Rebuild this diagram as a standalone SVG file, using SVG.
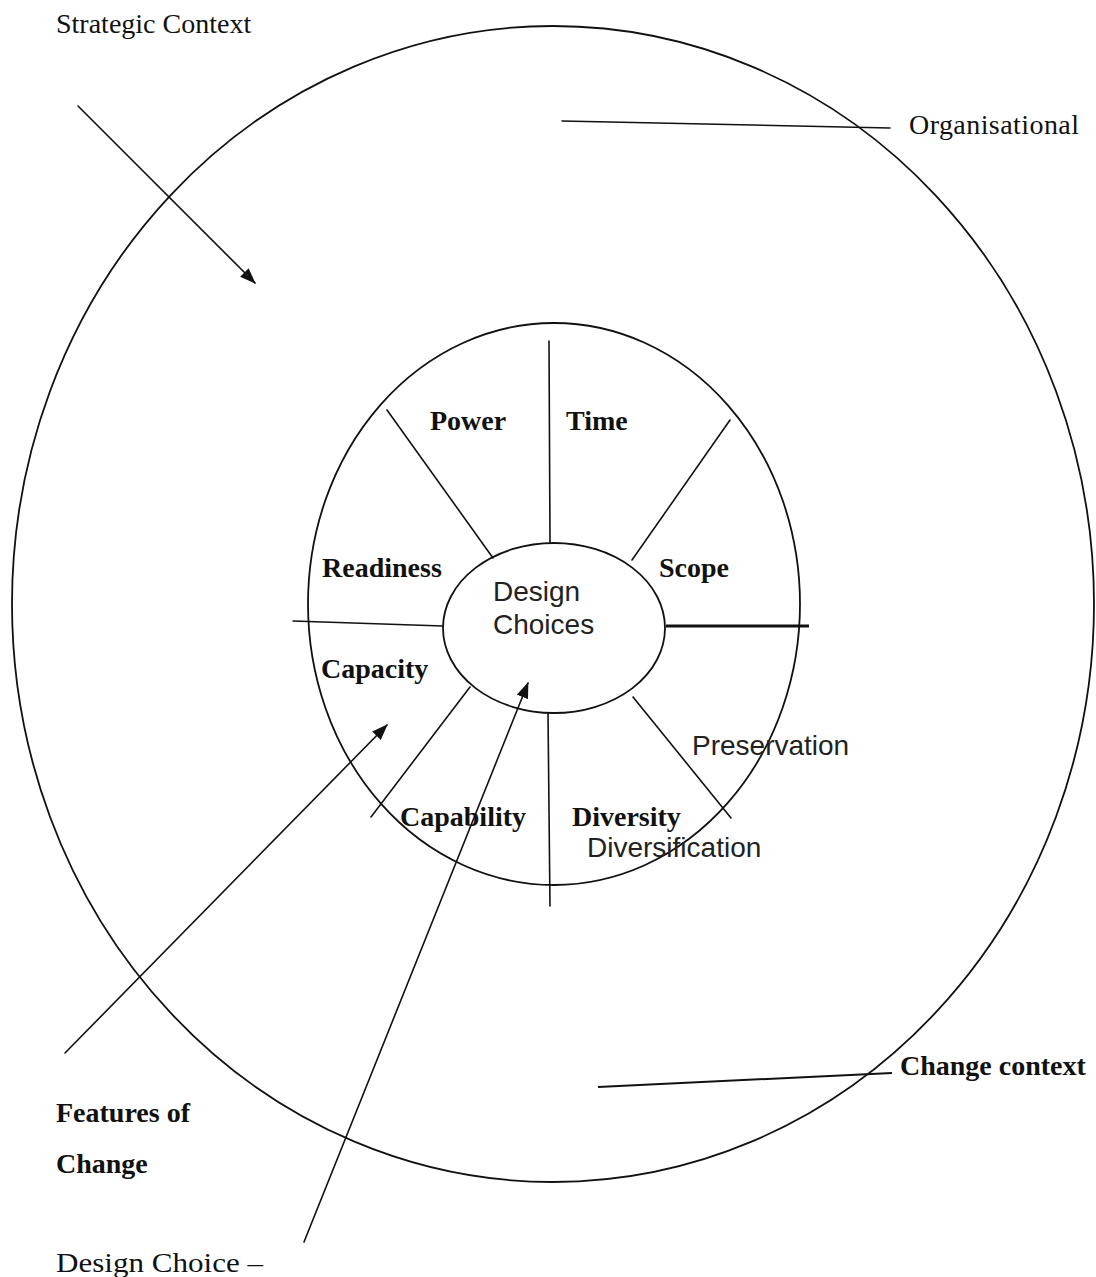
<svg xmlns="http://www.w3.org/2000/svg" width="1096" height="1277" viewBox="0 0 1096 1277">
<defs>
<style>
.ln{stroke:#111;stroke-width:1.6;fill:none;stroke-linecap:round}
.ring{stroke:#111;stroke-width:1.8;fill:none}
.ser{font-family:"Liberation Serif","Times New Roman",serif;font-size:28px;fill:#111}
.bold{font-family:"Liberation Serif","Times New Roman",serif;font-size:28px;font-weight:bold;fill:#111}
.sans{font-family:"Liberation Sans",Arial,sans-serif;font-size:28px;fill:#222}
</style>
<marker id="ah" viewBox="0 0 16 12" refX="15" refY="6" markerWidth="16" markerHeight="12" markerUnits="userSpaceOnUse" orient="auto">
<path d="M0,0 L16,6 L0,12 Z" fill="#111"/>
</marker>
</defs>
<rect width="1096" height="1277" fill="#fff"/>

<g id="outer-circle">
<ellipse class="ring" cx="553" cy="604" rx="541" ry="578"/>
</g>
<g id="inner-circle">
<ellipse class="ring" cx="554" cy="604" rx="246" ry="281"/>
</g>

<g id="connectors">
<line class="ln" x1="549" y1="341" x2="550" y2="543"/>
<line class="ln" x1="387" y1="410" x2="493" y2="558"/>
<line class="ln" x1="730" y1="420" x2="632" y2="560"/>
<line class="ln" x1="293" y1="621" x2="443" y2="626"/>
<line x1="666" y1="626" x2="809" y2="626" stroke="#111" stroke-width="3"/>
<line class="ln" x1="470" y1="687" x2="371" y2="817"/>
<line class="ln" x1="548" y1="713" x2="550" y2="906"/>
<line class="ln" x1="633" y1="697" x2="731" y2="818"/>
<line class="ln" x1="78" y1="106" x2="255" y2="283" marker-end="url(#ah)"/>
<line class="ln" x1="65" y1="1053" x2="387" y2="725" marker-end="url(#ah)"/>
<line class="ln" x1="304" y1="1242" x2="528" y2="683" marker-end="url(#ah)"/>
<line class="ln" x1="562" y1="121" x2="890" y2="128"/>
<line x1="598" y1="1087" x2="892" y2="1073" stroke="#111" stroke-width="2"/>
</g>

<g id="design-choices">
<ellipse class="ring" cx="554" cy="628" rx="111" ry="85"/>
<text class="sans" x="493" y="601">Design</text>
<text class="sans" x="493" y="634">Choices</text>
</g>

<g id="strategic-context"><text class="ser" x="56" y="33">Strategic Context</text></g>
<g id="organisational"><text class="ser" x="909" y="134" textLength="170" lengthAdjust="spacing">Organisational</text></g>
<g id="power"><text class="bold" x="430" y="430">Power</text></g>
<g id="time"><text class="bold" x="566" y="430">Time</text></g>
<g id="readiness"><text class="bold" x="322" y="577">Readiness</text></g>
<g id="scope"><text class="bold" x="659" y="577">Scope</text></g>
<g id="capacity"><text class="bold" x="321" y="678">Capacity</text></g>
<g id="capability"><text class="bold" x="400" y="826">Capability</text></g>
<g id="diversity"><text class="bold" x="572" y="826">Diversity</text></g>
<g id="preservation"><text class="sans" x="692" y="755">Preservation</text></g>
<g id="diversification"><text class="sans" x="587" y="857">Diversification</text></g>
<g id="change-context"><text class="bold" x="900" y="1075">Change context</text></g>
<g id="features-of-change">
<text class="bold" x="56" y="1122">Features of</text>
<text class="bold" x="56" y="1173">Change</text>
</g>
<g id="design-choice-label"><text class="ser" x="56" y="1272" textLength="207" lengthAdjust="spacingAndGlyphs">Design Choice –</text></g>
</svg>
